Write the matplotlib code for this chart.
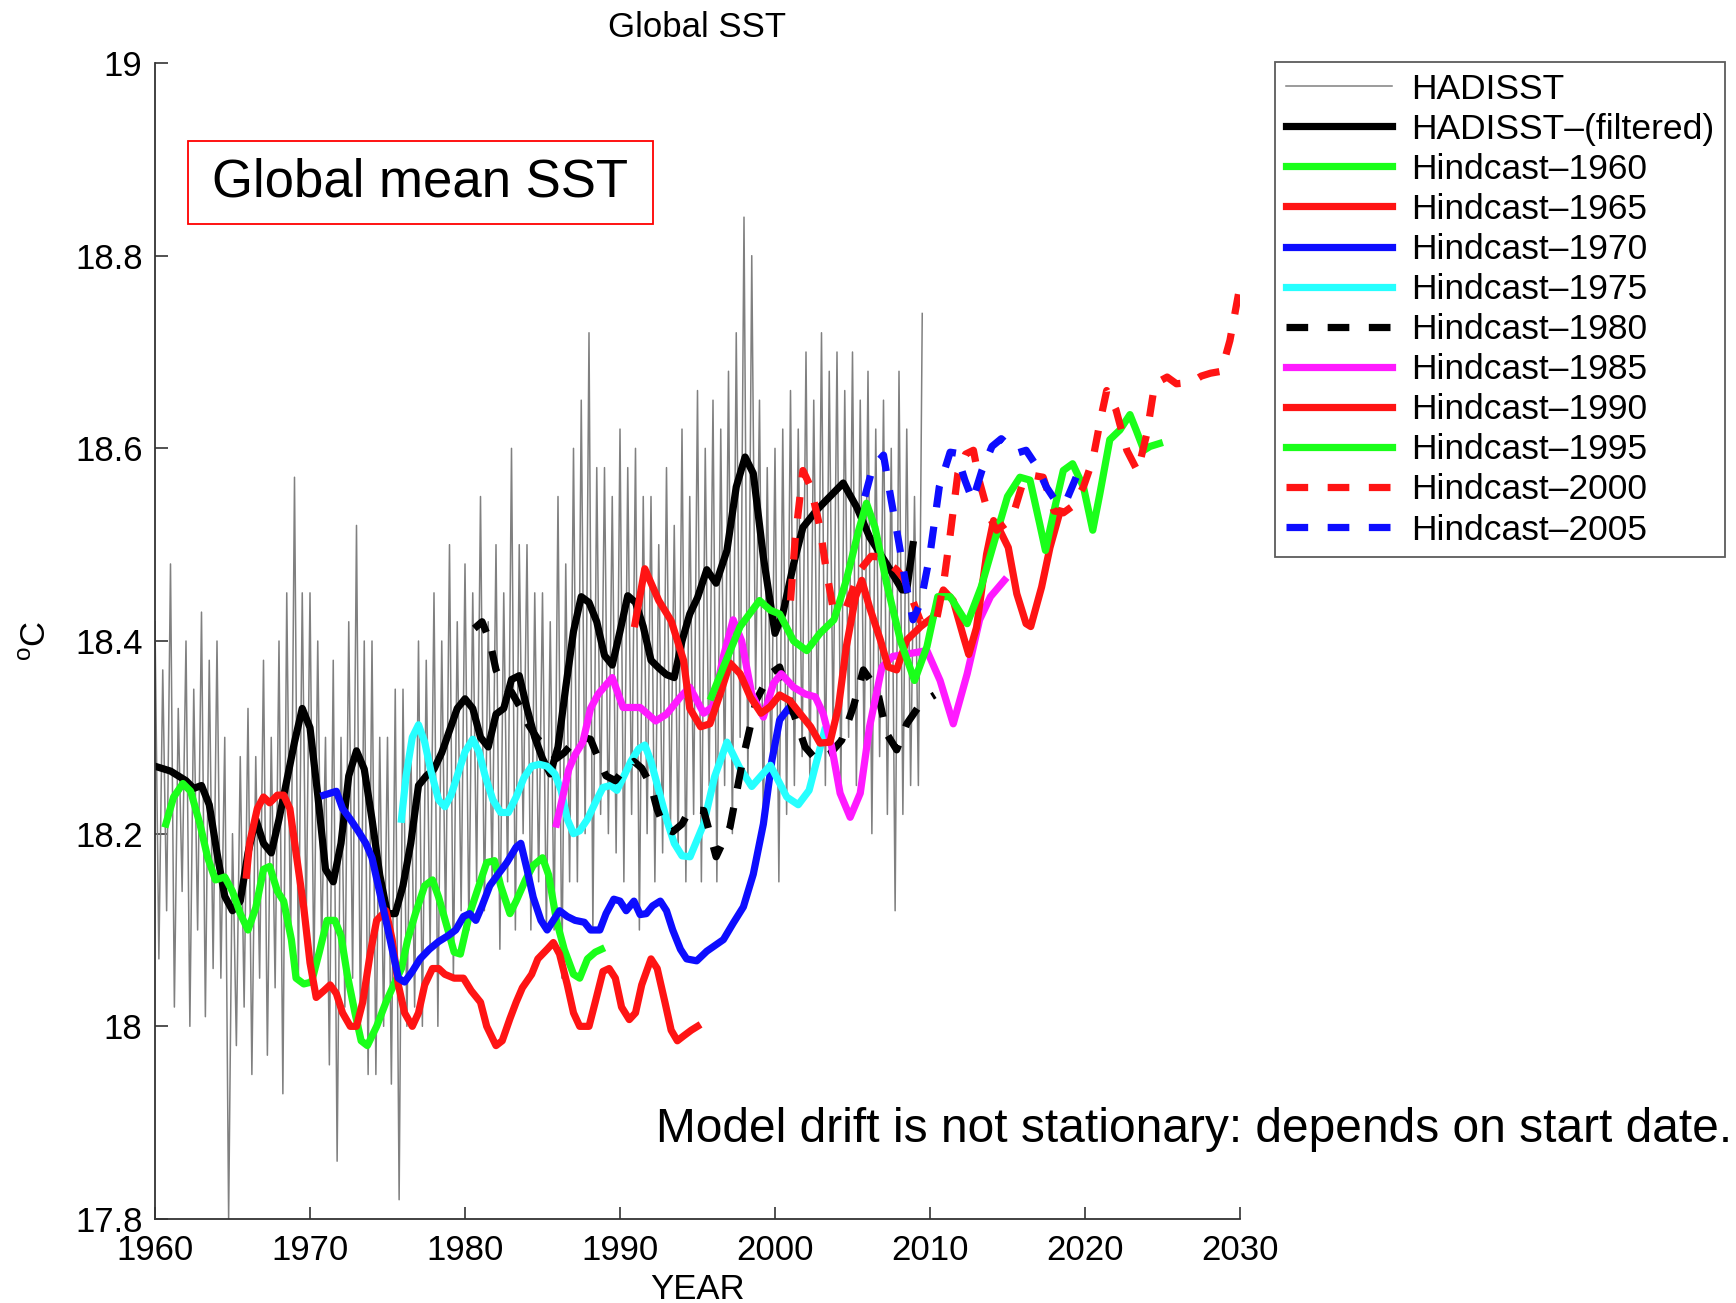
import numpy as np
import matplotlib
matplotlib.use('Agg')
import matplotlib.pyplot as plt
from matplotlib.patches import Rectangle

plt.rcParams.update({'font.family': ['Liberation Sans', 'DejaVu Sans']})
plt.rcParams.update({'mathtext.fontset': 'custom', 'mathtext.rm': 'Liberation Sans'})
plt.rcParams.update({'font.size': 25})

# HADISST global mean SST, quarterly samples from 1960.0
hadisst_start = 1960.0
hadisst_step = 0.25
hadisst_sst = [
    18.42, 18.07, 18.37, 18.12,  18.48, 18.02, 18.33, 18.14,
    18.40, 18.00, 18.35, 18.10,  18.43, 18.01, 18.38, 18.06,
    18.40, 18.05, 18.30, 17.80,  18.20, 17.98, 18.28, 18.02,
    18.33, 17.95, 18.28, 18.05,  18.38, 17.97, 18.30, 18.04,
    18.40, 17.93, 18.45, 18.08,  18.57, 18.05, 18.45, 18.10,
    18.45, 18.05, 18.40, 18.08,  18.30, 17.96, 18.38, 17.86,
    18.30, 18.02, 18.42, 18.05,  18.52, 18.00, 18.40, 17.95,
    18.40, 17.95, 18.30, 18.00,  18.30, 17.94, 18.35, 17.82,
    18.35, 18.00, 18.30, 18.02,  18.40, 18.00, 18.38, 18.08,
    18.45, 18.00, 18.40, 18.10,  18.50, 18.05, 18.42, 18.12,
    18.48, 18.10, 18.45, 18.15,  18.55, 18.12, 18.42, 18.15,
    18.50, 18.08, 18.45, 18.15,  18.60, 18.10, 18.50, 18.20,
    18.50, 18.10, 18.45, 18.15,  18.45, 18.10, 18.42, 18.10,
    18.55, 18.05, 18.48, 18.15,  18.60, 18.15, 18.65, 18.20,
    18.72, 18.10, 18.58, 18.22,  18.58, 18.20, 18.55, 18.18,
    18.62, 18.15, 18.58, 18.22,  18.60, 18.10, 18.55, 18.20,
    18.55, 18.15, 18.50, 18.18,  18.58, 18.20, 18.52, 18.18,
    18.62, 18.15, 18.55, 18.22,  18.66, 18.15, 18.60, 18.25,
    18.65, 18.15, 18.62, 18.25,  18.68, 18.20, 18.72, 18.30,
    18.84, 18.25, 18.80, 18.35,  18.65, 18.20, 18.58, 18.25,
    18.60, 18.15, 18.62, 18.22,  18.66, 18.25, 18.62, 18.28,
    18.70, 18.25, 18.65, 18.30,  18.72, 18.25, 18.68, 18.30,
    18.70, 18.25, 18.66, 18.30,  18.70, 18.25, 18.65, 18.28,
    18.68, 18.20, 18.62, 18.28,  18.65, 18.22, 18.60, 18.12,
    18.68, 18.22, 18.62, 18.25,  18.55, 18.25, 18.74,
]

filt_years = [1960, 1961, 1962, 1962.5, 1963, 1963.5, 1964, 1964.5, 1965, 1965.5,
              1966, 1966.5, 1967, 1967.5, 1968, 1968.5, 1969, 1969.5, 1970, 1970.5,
              1971, 1971.5, 1972, 1972.5, 1973, 1973.5, 1974, 1974.5, 1975, 1975.5,
              1976, 1976.5, 1977, 1977.5, 1978, 1978.5, 1979, 1979.5, 1980, 1980.5,
              1981, 1981.5, 1982, 1982.5, 1983, 1983.5, 1984, 1984.5, 1985, 1985.5,
              1986, 1986.5, 1987, 1987.5, 1988, 1988.5, 1989, 1989.5, 1990, 1990.5,
              1991, 1991.5, 1992, 1992.5, 1993, 1993.5, 1994, 1994.5, 1995, 1995.6,
              1996.2, 1996.9, 1997.5, 1998.07, 1998.6, 1999.25, 2000, 2000.5, 2001.2, 2001.8,
              2002.7, 2003.3, 2004.4, 2005.27, 2006.1, 2007.2, 2008.2, 2008.5, 2008.9]
filt_sst = [18.27, 18.265, 18.255, 18.247, 18.25, 18.23, 18.18, 18.135, 18.12, 18.13,
            18.18, 18.215, 18.19, 18.18, 18.215, 18.255, 18.295, 18.33, 18.31, 18.24,
            18.163, 18.15, 18.19, 18.26, 18.286, 18.267, 18.215, 18.157, 18.117, 18.117,
            18.146, 18.19, 18.25, 18.26, 18.267, 18.284, 18.307, 18.33, 18.34, 18.33,
            18.30, 18.29, 18.324, 18.33, 18.36, 18.364, 18.33, 18.30, 18.278, 18.262,
            18.29, 18.352, 18.41, 18.446, 18.44, 18.42, 18.385, 18.375, 18.41, 18.447,
            18.44, 18.415, 18.38, 18.372, 18.365, 18.362, 18.40, 18.428, 18.445, 18.474,
            18.46, 18.494, 18.56, 18.591, 18.574, 18.487, 18.408, 18.428, 18.48, 18.518,
            18.536, 18.546, 18.564, 18.539, 18.508, 18.48, 18.453, 18.453, 18.50]

hc1960_years = [1960.7, 1961.2, 1961.8, 1962.3, 1962.9, 1963.4, 1963.9, 1964.5, 1965.0, 1965.5,
                1966.0, 1966.5, 1967.0, 1967.4, 1967.9, 1968.3, 1968.8, 1969.1, 1969.6, 1970.1,
                1970.6, 1971.1, 1971.6, 1972.0, 1972.4, 1972.9, 1973.3, 1973.7, 1974.3, 1974.9,
                1975.4, 1975.9, 1976.3, 1976.8, 1977.4, 1977.9, 1978.3, 1978.9, 1979.3, 1979.7,
                1980.3, 1980.9, 1981.4, 1981.9, 1982.3, 1982.9, 1983.3, 1983.9, 1984.4, 1985.0,
                1985.4, 1985.9, 1986.4, 1987.0, 1987.4, 1987.9, 1988.4, 1988.8]
hc1960_sst = [18.21, 18.238, 18.252, 18.244, 18.21, 18.175, 18.152, 18.155, 18.14, 18.117,
              18.10, 18.123, 18.163, 18.166, 18.14, 18.13, 18.09, 18.05, 18.044, 18.046,
              18.077, 18.11, 18.11, 18.094, 18.054, 18.014, 17.985, 17.98, 18.0, 18.025,
              18.043, 18.06, 18.09, 18.117, 18.146, 18.152, 18.134, 18.10, 18.077, 18.075,
              18.117, 18.146, 18.17, 18.172, 18.146, 18.117, 18.13, 18.152, 18.167, 18.175,
              18.157, 18.11, 18.08, 18.054, 18.05, 18.07, 18.077, 18.08]

hc1965_years = [1965.9, 1966.1, 1966.6, 1967.0, 1967.4, 1967.9, 1968.3, 1968.7, 1969.1, 1969.6,
                1970.0, 1970.4, 1970.9, 1971.3, 1971.7, 1972.1, 1972.6, 1973.0, 1973.4, 1973.9,
                1974.3, 1974.9, 1975.3, 1975.7, 1976.1, 1976.6, 1977.0, 1977.4, 1977.9, 1978.3,
                1978.7, 1979.3, 1979.9, 1980.4, 1981.0, 1981.4, 1982.0, 1982.4, 1982.9, 1983.3,
                1983.7, 1984.3, 1984.7, 1985.3, 1985.7, 1986.1, 1986.6, 1987.0, 1987.4, 1988.0,
                1988.4, 1988.9, 1989.3, 1989.7, 1990.1, 1990.6, 1991.0, 1991.4, 1992.0, 1992.4,
                1992.9, 1993.3, 1993.7, 1994.1, 1994.6, 1995.0]
hc1965_sst = [18.157, 18.19, 18.226, 18.238, 18.232, 18.24, 18.24, 18.226, 18.18, 18.123,
              18.066, 18.03, 18.037, 18.043, 18.034, 18.014, 18.0, 18.0, 18.025, 18.077,
              18.11, 18.12, 18.09, 18.043, 18.014, 18.0, 18.014, 18.043, 18.06, 18.06,
              18.054, 18.05, 18.05, 18.037, 18.025, 18.0, 17.98, 17.985, 18.008, 18.025,
              18.04, 18.054, 18.07, 18.08, 18.087, 18.075, 18.043, 18.014, 18.0, 18.0,
              18.025, 18.057, 18.06, 18.05, 18.02, 18.007, 18.014, 18.043, 18.07, 18.06,
              18.025, 17.996, 17.985, 17.99, 17.996, 18.0]

hc1970_years = [1970.9, 1971.3, 1971.7, 1972.1, 1972.6, 1973.1, 1973.6, 1974.0, 1974.4, 1974.9,
                1975.3, 1975.7, 1976.1, 1976.6, 1977.1, 1977.7, 1978.3, 1978.9, 1979.4, 1979.9,
                1980.3, 1980.7, 1981.1, 1981.6, 1982.1, 1982.7, 1983.3, 1983.6, 1984.0, 1984.4,
                1984.9, 1985.3, 1985.7, 1986.1, 1986.6, 1987.1, 1987.7, 1988.1, 1988.7, 1989.1,
                1989.6, 1990.0, 1990.4, 1990.9, 1991.3, 1991.7, 1992.1, 1992.6, 1993.0, 1993.4,
                1993.9, 1994.3, 1994.95, 1995.6, 1996.67, 1997.3, 1997.96, 1998.6, 1999.25, 1999.8,
                2000.3, 2000.86, 2001.2]
hc1970_sst = [18.24, 18.242, 18.244, 18.226, 18.215, 18.203, 18.19, 18.175, 18.146, 18.11,
              18.08, 18.05, 18.046, 18.057, 18.07, 18.08, 18.088, 18.094, 18.1, 18.114,
              18.117, 18.11, 18.125, 18.146, 18.157, 18.17, 18.186, 18.19, 18.163, 18.134,
              18.11, 18.1, 18.11, 18.12, 18.114, 18.11, 18.108, 18.1, 18.1, 18.117,
              18.132, 18.13, 18.12, 18.13, 18.116, 18.117, 18.125, 18.13, 18.12, 18.1,
              18.08, 18.07, 18.068, 18.078, 18.09, 18.107, 18.124, 18.158, 18.21, 18.276,
              18.318, 18.33, 18.325]

hc1975_years = [1975.9, 1976.2, 1976.6, 1977.0, 1977.4, 1977.8, 1978.3, 1978.7, 1979.1, 1979.6,
                1980.0, 1980.5, 1980.9, 1981.3, 1981.8, 1982.3, 1982.8, 1983.3, 1983.8, 1984.3,
                1984.8, 1985.3, 1985.8, 1986.2, 1986.6, 1987.0, 1987.4, 1987.9, 1988.4, 1988.9,
                1989.4, 1989.8, 1990.2, 1990.7, 1991.2, 1991.6, 1992.0, 1992.5, 1993.0, 1993.5,
                1994.0, 1994.52, 1995.4, 1996.1, 1996.9, 1997.7, 1998.5, 1999.7, 2000.76, 2001.5,
                2002.2, 2002.7, 2003.2]
hc1975_sst = [18.215, 18.26, 18.30, 18.313, 18.295, 18.265, 18.235, 18.228, 18.24, 18.265,
              18.285, 18.298, 18.285, 18.26, 18.235, 18.222, 18.222, 18.238, 18.258, 18.27,
              18.272, 18.27, 18.262, 18.245, 18.215, 18.2, 18.203, 18.215, 18.232, 18.248,
              18.25, 18.245, 18.258, 18.275, 18.288, 18.292, 18.275, 18.245, 18.215, 18.19,
              18.177, 18.176, 18.21, 18.259, 18.295, 18.269, 18.249, 18.271, 18.238, 18.23,
              18.245, 18.276, 18.307]

hc1980_years = [1980.6, 1981.1, 1981.6, 1982.0, 1982.5, 1983.0, 1983.6, 1984.1, 1984.7, 1985.3,
                1985.9, 1986.4, 1987.0, 1987.6, 1988.1, 1988.6, 1989.1, 1989.7, 1990.3, 1990.9,
                1991.4, 1992.0, 1992.4, 1992.9, 1993.4, 1994.0, 1994.5, 1995.4, 1996.2, 1997.1,
                1997.96, 1998.8, 1999.7, 2000.3, 2001.2, 2001.94, 2002.7, 2003.5, 2004.3, 2005.06,
                2005.7, 2006.6, 2007.2, 2007.85, 2008.5, 2009.4, 2010.3]
hc1980_sst = [18.413, 18.42, 18.40, 18.37, 18.353, 18.347, 18.33, 18.313, 18.298, 18.29,
              18.278, 18.284, 18.295, 18.30, 18.298, 18.278, 18.26, 18.255, 18.268, 18.275,
              18.268, 18.25, 18.225, 18.205, 18.202, 18.21, 18.225, 18.224, 18.176, 18.207,
              18.28, 18.339, 18.366, 18.373, 18.325, 18.29, 18.276, 18.282, 18.297, 18.332,
              18.37, 18.349, 18.304, 18.287, 18.314, 18.335, 18.344]

hc1985_years = [1985.9, 1986.3, 1986.7, 1987.1, 1987.6, 1988.1, 1988.6, 1989.5, 1990.2, 1991.3,
                1992.3, 1993.0, 1993.9, 1994.5, 1995.4, 1996.0, 1996.67, 1997.3, 1997.85, 1998.5,
                1999.25, 1999.9, 2000.4, 2001.2, 2001.94, 2002.6, 2003.1, 2003.66, 2004.2, 2004.85,
                2005.5, 2006.1, 2006.9, 2007.6, 2008.7, 2009.8, 2010.65, 2011.5, 2012.4, 2013.2,
                2013.9, 2014.8]
hc1985_sst = [18.21, 18.238, 18.267, 18.282, 18.295, 18.33, 18.345, 18.362, 18.331, 18.331,
              18.317, 18.324, 18.342, 18.352, 18.325, 18.332, 18.384, 18.422, 18.40, 18.345,
              18.321, 18.356, 18.366, 18.352, 18.345, 18.342, 18.325, 18.29, 18.242, 18.217,
              18.242, 18.311, 18.373, 18.384, 18.387, 18.39, 18.359, 18.314, 18.366, 18.422,
              18.446, 18.463]

hc1990_years = [1990.97, 1991.6, 1992.5, 1993.3, 1994.1, 1994.5, 1995.2, 1995.8, 1996.46, 1997.1,
                1997.75, 1998.4, 1999.1, 1999.7, 2000.3, 2000.97, 2001.6, 2002.3, 2002.9, 2003.55,
                2004.1, 2004.6, 2005.2, 2005.6, 2006.1, 2006.8, 2007.3, 2007.85, 2008.5, 2009.4,
                2010.2, 2010.86, 2011.5, 2012.15, 2012.5, 2013.0, 2013.65, 2014.1, 2014.5, 2015.05,
                2015.6, 2016.2, 2016.5, 2017.2, 2017.74, 2018.4]
hc1990_sst = [18.418, 18.475, 18.442, 18.421, 18.38, 18.33, 18.311, 18.314, 18.345, 18.377,
              18.366, 18.342, 18.325, 18.332, 18.344, 18.338, 18.325, 18.311, 18.294, 18.295,
              18.332, 18.394, 18.446, 18.463, 18.435, 18.401, 18.373, 18.37, 18.401, 18.415,
              18.425, 18.453, 18.442, 18.405, 18.386, 18.414, 18.49, 18.525, 18.515, 18.497,
              18.449, 18.418, 18.415, 18.456, 18.497, 18.535]

hc1995_years = [1995.9, 1996.67, 1997.75, 1999.0, 1999.7, 2000.3, 2001.2, 2002.05, 2002.9, 2003.8,
                2004.6, 2005.4, 2005.9, 2006.45, 2007.2, 2008.1, 2009.0, 2009.8, 2010.5, 2011.3,
                2012.4, 2013.3, 2014.2, 2015.0, 2015.8, 2016.45, 2017.1, 2017.45, 2018.0, 2018.6,
                2019.2, 2019.9, 2020.5, 2020.96, 2021.6, 2022.25, 2022.9, 2023.3, 2023.8, 2024.2,
                2024.8]
hc1995_sst = [18.342, 18.373, 18.415, 18.442, 18.432, 18.428, 18.40, 18.39, 18.408, 18.422,
              18.463, 18.515, 18.543, 18.518, 18.46, 18.40, 18.359, 18.394, 18.446, 18.446,
              18.418, 18.456, 18.506, 18.55, 18.57, 18.567, 18.52, 18.494, 18.535, 18.577,
              18.584, 18.56, 18.515, 18.553, 18.609, 18.619, 18.635, 18.619, 18.598, 18.602,
              18.605]

hc2000_years = [2001.0, 2001.3, 2001.8, 2002.3, 2002.9, 2003.3, 2003.77, 2004.6, 2005.5, 2006.2,
                2006.8, 2007.85, 2008.3, 2008.7, 2009.4, 2010.4, 2010.86, 2011.3, 2011.8, 2012.3,
                2012.8, 2013.2, 2013.8, 2014.3, 2014.9, 2015.4, 2016.0, 2016.6, 2017.3, 2018.0,
                2018.6, 2019.2, 2019.9, 2020.5, 2021.0, 2021.4, 2022.0, 2022.7, 2023.4, 2024.0,
                2024.5, 2025.3, 2025.9, 2026.5, 2027.0, 2027.5, 2028.1, 2028.8, 2029.35, 2029.9]
hc2000_sst = [18.442, 18.505, 18.577, 18.56, 18.518, 18.474, 18.432, 18.435, 18.474, 18.488,
              18.487, 18.474, 18.465, 18.45, 18.42, 18.42, 18.458, 18.51, 18.574, 18.594,
              18.598, 18.565, 18.53, 18.515, 18.522, 18.533, 18.565, 18.572, 18.57, 18.535,
              18.533, 18.54, 18.56, 18.588, 18.63, 18.66, 18.64, 18.598, 18.576, 18.616,
              18.667, 18.674, 18.667, 18.668, 18.67, 18.675, 18.678, 18.68, 18.712, 18.76]

hc2005_years = [2005.8, 2006.3, 2007.0, 2007.5, 2007.96, 2008.4, 2008.9, 2009.4, 2010.0, 2010.6,
                2011.3, 2011.7, 2012.25, 2012.75, 2013.35, 2014.0, 2014.6, 2015.6, 2016.2, 2016.9,
                2017.5, 2018.2, 2018.8, 2019.35, 2019.8]
hc2005_sst = [18.55, 18.58, 18.593, 18.546, 18.505, 18.463, 18.422, 18.44, 18.49, 18.56,
              18.596, 18.595, 18.567, 18.546, 18.577, 18.602, 18.61, 18.595, 18.598, 18.581,
              18.56, 18.543, 18.546, 18.567, 18.584]

hindcasts = [
    ('Hindcast\u20131960', hc1960_years, hc1960_sst, (0.1, 1.0, 0.1), '-'),
    ('Hindcast\u20131965', hc1965_years, hc1965_sst, (1.0, 0.08, 0.08), '-'),
    ('Hindcast\u20131970', hc1970_years, hc1970_sst, (0.05, 0.05, 1.0), '-'),
    ('Hindcast\u20131975', hc1975_years, hc1975_sst, (0.15, 1.0, 1.0), '-'),
    ('Hindcast\u20131980', hc1980_years, hc1980_sst, (0.0, 0.0, 0.0), 'dash'),
    ('Hindcast\u20131985', hc1985_years, hc1985_sst, (1.0, 0.1, 1.0), '-'),
    ('Hindcast\u20131990', hc1990_years, hc1990_sst, (1.0, 0.08, 0.08), '-'),
    ('Hindcast\u20131995', hc1995_years, hc1995_sst, (0.1, 1.0, 0.1), '-'),
    ('Hindcast\u20132000', hc2000_years, hc2000_sst, (1.0, 0.08, 0.08), 'dash'),
    ('Hindcast\u20132005', hc2005_years, hc2005_sst, (0.05, 0.05, 1.0), 'dash'),
]

fig = plt.figure(figsize=(17.36, 13.03), dpi=100)
ax = fig.add_axes([155 / 1736, 84 / 1303, 1085 / 1736, 1156 / 1303])

raw_years = hadisst_start + hadisst_step * np.arange(len(hadisst_sst))
ax.plot(raw_years, hadisst_sst, color='#808080', lw=1.1, label='HADISST')
ax.plot(filt_years, filt_sst, color='black', lw=5.2, label='HADISST\u2013(filtered)')

for label, yrs, sst, color, style in hindcasts:
    ls = (0, (3.0, 2.7)) if style == 'dash' else '-'
    ax.plot(yrs, sst, color=color, lw=5.2, ls=ls, label=label)

ax.set_xlim(1960, 2030)
ax.set_ylim(17.8, 19)
ax.set_xticks(np.arange(1960, 2031, 10))
ax.set_yticks([17.8, 18, 18.2, 18.4, 18.6, 18.8, 19])
ax.set_yticklabels(['17.8', '18', '18.2', '18.4', '18.6', '18.8', '19'])
ax.tick_params(direction='in', length=9, width=1.2, color='#333333', labelsize=25)
ax.tick_params(axis='x', pad=11)
ax.tick_params(axis='y', pad=9)
for side in ['top', 'right']:
    ax.spines[side].set_visible(False)
for side in ['left', 'bottom']:
    ax.spines[side].set_color('#333333')
    ax.spines[side].set_linewidth(1.3)

ax.set_title('Global SST', fontsize=25, pad=19)
ax.set_xlabel('YEAR', fontsize=25, labelpad=4)
ax.set_ylabel(r'$^{\rm o}$C', fontsize=25, labelpad=16)

ax.add_patch(Rectangle((0.0304, 0.8607), 0.4286, 0.0718, transform=ax.transAxes,
                       fill=False, edgecolor='red', lw=1.3))
ax.text(0.2442, 0.897, 'Global mean SST', transform=ax.transAxes,
        ha='center', va='center', fontsize=38)

fig.text(656 / 1736, 1 - 1130 / 1303, 'Model drift is not stationary: depends on start date.',
         ha='left', va='center', fontsize=34.5)

leg = ax.legend(loc='upper left', bbox_to_anchor=(1275 / 1736, 1 - 62 / 1303),
                bbox_transform=fig.transFigure, fontsize=25.5, frameon=True, fancybox=False,
                handlelength=3.0, handletextpad=0.55, labelspacing=0.2, borderpad=0.3,
                borderaxespad=0)
leg.get_frame().set_edgecolor('#333333')
leg.get_frame().set_linewidth(1.3)

fig.savefig('out.png', dpi=100)
